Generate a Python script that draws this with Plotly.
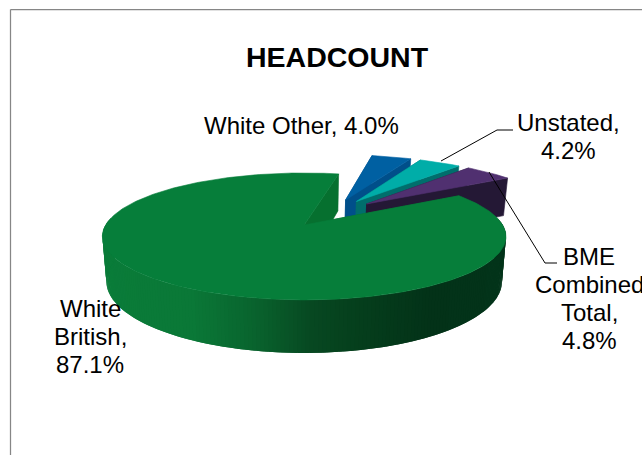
import math
import plotly.graph_objects as go

categories = ["White British", "White Other", "Unstated", "BME Combined Total"]
values = [87.1, 4.0, 4.2, 4.8]
top_colors = ["#067E3A", "#0060A2", "#00ADA8", "#503070"]
edge_colors = ["#06702F", "#004F8A", "#006E6C", "#241835"]
wall_colors = ["#067E3A", "#004F8A", "#006E6C", "#241835"]
green_wall_stops = [(100, (10, 124, 57)), (190, (10, 120, 55)), (250, (9, 100, 46)),
                    (310, (7, 72, 33)), (360, (5, 62, 28)), (430, (3, 50, 24)), (505, (3, 52, 26))]

title_text = "HEADCOUNT"
label_lines = [
    ("White", 90, 308), ("British,", 90, 336), ("87.1%", 90, 364),
    ("White Other, 4.0%", 301, 125),
    ("Unstated,", 568, 122), ("4.2%", 568, 150),
    ("BME", 589, 256), ("Combined", 589.5, 284), ("Total,", 589, 312), ("4.8%", 589, 340),
]

# projection of the tilted pie
ORIGIN_X, ORIGIN_Y = 303, 225
A, B, K = 198.5, 61.4, 0.18
HEIGHT, BOTTOM_SCALE = 43.5, 0.98
CENTER = (0.15, 0.204)
EXPLODE = 0.25
START = 31.4


def project(u, v, low=False):
    s = 1 / (1 + K * v)
    x = A * s * u
    y = -B * s * v
    if low:
        return ORIGIN_X + x * BOTTOM_SCALE, ORIGIN_Y + y + HEIGHT * s
    return ORIGIN_X + x, ORIGIN_Y + y


def wall_rgb(x):
    stops = green_wall_stops
    if x <= stops[0][0]:
        return stops[0][1]
    for (x0, c0), (x1, c1) in zip(stops, stops[1:]):
        if x <= x1:
            t = (x - x0) / (x1 - x0)
            return tuple(round(a + (b - a) * t) for a, b in zip(c0, c1))
    return stops[-1][1]


fig = go.Figure()


def poly(points, color, edge=0.6):
    fig.add_trace(go.Scatter(
        x=[p[0] for p in points] + [points[0][0]],
        y=[p[1] for p in points] + [points[0][1]],
        mode="lines", fill="toself", fillcolor=color,
        line=dict(color=color, width=edge), hoverinfo="skip", showlegend=False,
    ))


total = sum(values)
slices = []
a0 = START
for i, val in enumerate(values):
    sweep = val / total * 360
    slices.append((i, a0, a0 - sweep))
    a0 -= sweep

# small slices first (back), the large slice last (front)
for i, a_start, a_end in slices[1:] + slices[:1]:
    mid = math.radians((a_start + a_end) / 2)
    au = CENTER[0] + EXPLODE * math.cos(mid)
    av = CENTER[1] + EXPLODE * math.sin(mid)
    n = max(6, int(abs(a_start - a_end)))
    rim = []
    for j in range(n + 1):
        t = math.radians(a_start + (a_end - a_start) * j / n)
        rim.append((au + math.cos(t), av + math.sin(t), math.sin(t)))

    # flat cut faces
    for end in (rim[0], rim[-1]):
        poly([project(au, av), project(end[0], end[1]), project(end[0], end[1], low=True),
              project(au, av, low=True)], edge_colors[i])
    # rim wall: only the part that faces the viewer, each piece overlapping the next
    front = [p for p in rim if p[2] < 0.12]
    for j in range(len(front) - 1):
        p = front[j]
        q = front[min(j + 2, len(front) - 1)]
        pts = [project(p[0], p[1]), project(q[0], q[1]),
               project(q[0], q[1], low=True), project(p[0], p[1], low=True)]
        if i == 0:
            c = wall_rgb(project(front[j + 1][0], front[j + 1][1])[0])
            col = f"rgb({c[0]},{c[1]},{c[2]})"
        else:
            col = wall_colors[i]
        poly(pts, col, edge=0)
    # top
    poly([project(au, av)] + [project(p[0], p[1]) for p in rim], top_colors[i])

# leader lines
fig.add_trace(go.Scatter(x=[441, 497, 513], y=[161, 130, 130], mode="lines",
                         line=dict(color="black", width=1), hoverinfo="skip", showlegend=False))
fig.add_trace(go.Scatter(x=[489, 545, 557], y=[172, 263, 263], mode="lines",
                         line=dict(color="black", width=1), hoverinfo="skip", showlegend=False))

font = "Liberation Sans, Arial, sans-serif"
annotations = [dict(x=337, y=57, xref="x", yref="y", text=f"<b>{title_text}</b>", showarrow=False,
                    font=dict(family=font, size=28.5, color="black"))]
for text, x, y in label_lines:
    annotations.append(dict(x=x, y=y, xref="x", yref="y", text=text, showarrow=False,
                            font=dict(family=font, size=24, color="black")))

fig.update_layout(
    width=642, height=455, margin=dict(l=0, r=0, t=0, b=0),
    paper_bgcolor="white", plot_bgcolor="white", showlegend=False,
    xaxis=dict(range=[0, 642], visible=False, fixedrange=True),
    yaxis=dict(range=[455, 0], visible=False, fixedrange=True),
    annotations=annotations,
    shapes=[
        dict(type="line", x0=10.5, x1=642, y0=9.5, y1=9.5, xref="x", yref="y", line=dict(color="#868686", width=1.25)),
        dict(type="line", x0=10.5, x1=10.5, y0=9.5, y1=455, xref="x", yref="y", line=dict(color="#868686", width=1.25)),
    ],
)

fig.write_html("out.html", config={"displayModeBar": False},
               post_script="document.body.style.margin='0';document.body.style.overflow='hidden';")
